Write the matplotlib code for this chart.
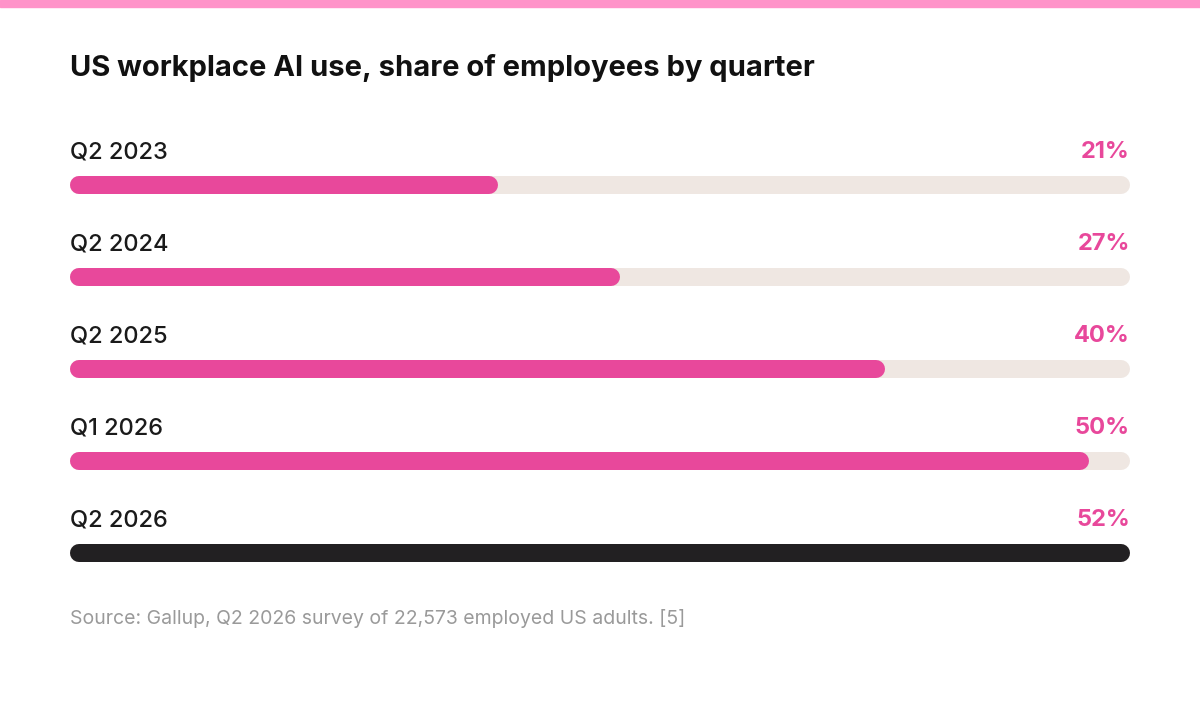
import matplotlib
matplotlib.use("Agg")
import matplotlib.pyplot as plt

categories = ["Q2 2023", "Q2 2024", "Q2 2025", "Q1 2026", "Q2 2026"]
values = [21, 27, 40, 50, 52]
value_labels = ["21%", "27%", "40%", "50%", "52%"]
xmax = 52

W, H = 1200, 701
fig = plt.figure(figsize=(W/100, H/100), dpi=100)
fig.patch.set_facecolor("white")
fig.patches.append(plt.Rectangle((0, 1 - 7/H), 1, 7/H, transform=fig.transFigure, color="#ff93c9", zorder=0))

left, right = 70, 1130
ax = fig.add_axes([left/W, 0, (right-left)/W, 1])
ax.set_xlim(0, xmax)
ax.set_ylim(H, 0)
ax.axis("off")

fam = ["Inter", "DejaVu Sans"]
fig.text(left/W, 1 - 68/H, "US workplace AI use, share of employees by quarter",
         fontsize=21, fontweight="bold", family=fam, color="#111111", va="center")

bar_px = 18
lw = bar_px * 72 / 100
r = (bar_px/2) / (right-left) * xmax
for i, (c, v, lab) in enumerate(zip(categories, values, value_labels)):
    yb = 185 + i*92
    yl = 152 + i*92
    last = i == len(values) - 1
    ax.plot([r, xmax - r], [yb, yb], color="#efe7e2", lw=lw, solid_capstyle="round", zorder=1)
    ax.plot([r, v - r], [yb, yb], color="#222022" if last else "#e8489b", lw=lw,
            solid_capstyle="round", zorder=2)
    ax.text(0, yl, c, fontsize=17, family=fam, fontweight="medium", color="#1a1a1a", va="center", ha="left")
    ax.text(xmax, yl, lab, fontsize=17, family=fam, fontweight="bold", color="#e8489b", va="center", ha="right")

fig.text(left/W, 1 - 619/H, "Source: Gallup, Q2 2026 survey of 22,573 employed US adults. [5]",
         fontsize=14, family=fam, color="#9a9a9a", va="center")

fig.savefig("out.png", dpi=100, facecolor="white")
